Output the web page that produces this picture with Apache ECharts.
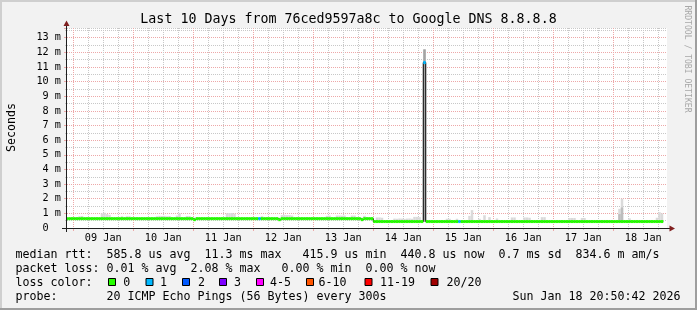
<!DOCTYPE html>
<html><head><meta charset="utf-8">
<script src="https://cdn.jsdelivr.net/npm/echarts@6/dist/echarts.min.js"></script>
<style>html,body{margin:0;padding:0;background:#f2f2f2}#c{width:697px;height:310px}</style>
</head><body><div id="c"></div>
<script>
// ---------------- data ----------------
const titleText = 'Last 10 Days from 76ced9597a8c to Google DNS 8.8.8.8';
const yTitle = 'Seconds';
const watermark = 'RRDTOOL / TOBI OETIKER';
const dayLabels = ['09 Jan','10 Jan','11 Jan','12 Jan','13 Jan','14 Jan','15 Jan','16 Jan','17 Jan','18 Jan'];
const AXIS_START = Date.UTC(2026, 0, 8, 21, 30);   // left edge of the time axis
const SLOT_MIN = 30, SLOTS = 480;                  // 10 days in 30-minute slots
// hourly samples (ms), sample i ends at Jan 8 22:00 + i hours
const medianRtt = [
 .64,.64,.64,.64,.64,.64,.64,.64,.64,.64,
 .64,.64,.64,.64,.64,.64,.64,.64,.64,.64,
 .64,.64,.64,.64,.64,.64,.64,.64,.64,.64,
 .64,.64,.64,.64,.64,.64,.64,.64,.64,.64,
 .64,.64,.64,.64,.64,.64,.64,.64,.64,.64,
 .64,.57,.64,.64,.64,.64,.64,.64,.64,.64,
 .64,.64,.64,.64,.64,.64,.64,.64,.64,.64,
 .64,.64,.64,.64,.64,.64,.64,.64,.64,.64,
 .64,.64,.64,.64,.64,.57,.64,.64,.64,.64,
 .64,.64,.64,.64,.64,.64,.64,.64,.64,.64,
 .64,.64,.64,.64,.64,.64,.64,.64,.64,.64,
 .64,.64,.64,.64,.64,.64,.64,.64,.57,.64,
 .64,.64,.64,.44,.44,.44,.44,.44,.44,.44,
 .44,.44,.44,.44,.44,.44,.44,.44,.44,.44,
 .44,.44,.44,11.3,.44,.44,.44,.44,.44,.44,
 .44,.44,.44,.44,.44,.44,.44,.44,.44,.44,
 .44,.44,.44,.44,.44,.44,.44,.44,.44,.44,
 .44,.44,.44,.44,.44,.44,.44,.44,.44,.44,
 .44,.44,.44,.44,.44,.44,.44,.44,.44,.44,
 .44,.44,.44,.44,.44,.44,.44,.44,.44,.44,
 .44,.44,.44,.44,.44,.44,.44,.44,.44,.44,
 .44,.44,.44,.44,.44,.44,.44,.44,.44,.44,
 .44,.44,.44,.44,.44,.44,.44,.44,.44,.44,
 .44,.44,.44,.44,.44,.44,.44,.44,.44
];
// highest ping of each sample (top of the smoke)
const smokeMax = [
 .72,.72,.72,.72,.72,.80,.82,.72,.72,.72,
 .72,.72,.72,.72,1.0,1.04,.95,.90,.72,.72,
 .72,.72,.80,.72,.80,.80,.72,.72,.72,.72,
 .72,.72,.72,.72,.72,.72,.80,.83,.82,.83,
 .80,.82,.72,.72,.85,1.0,.72,.72,.82,.82,
 .72,.72,.72,.72,.72,.72,.72,.72,.72,.72,
 .72,.72,.72,.72,1.0,1.02,1.02,.98,.72,.72,
 .72,.72,.72,.72,.72,.72,.72,.72,.80,.72,
 .72,.72,.72,.72,.72,.72,.88,.90,.88,.88,
 .85,.72,.72,.72,.72,.72,.72,.72,.72,.72,
 .72,.72,.72,.72,.83,.85,.72,.72,.85,.85,
 .84,.85,.72,.72,.85,.85,.72,.72,.72,.83,
 .72,.72,.72,.55,.72,.72,.70,.55,.55,.55,
 .55,.64,.63,.65,.64,.62,.64,.65,.63,.76,
 .76,.74,.55,12.2,.55,.55,.55,.55,.55,.55,
 .55,.55,.63,.63,.55,.55,.63,.55,.55,.55,
 .55,.83,1.22,.55,.55,.63,.55,.87,.55,.74,
 .55,.55,.65,.55,.55,.55,.55,.55,.72,.72,
 .55,.55,.55,.72,.72,.70,.55,.55,.55,.55,
 .74,.74,.55,.55,.55,.55,.55,.55,.55,.55,
 .55,.68,.68,.68,.55,.55,.68,.68,.55,.55,
 .55,.55,.55,.55,.55,.55,.55,.55,.55,.55,
 .55,1.31,2.0,.55,.55,.66,.55,.55,.55,.55,
 .55,.55,.55,.55,.55,.55,.70,1.08,1.0
];
// lowest ping where it differs from the median: [sample, ms]
const smokeMinOverride = [[143, 0.42]];
// denser smoke bands: [sample, low, high]
const midSmoke = [[221, 0.5, 0.95], [222, 0.5, 1.4]];
const denseSmoke = [[143, 0.42, 12.2]];
// packet loss per sample (pings lost out of 20): [sample, lost]
const lossEvents = [[77, 1], [143, 1], [157, 1]];
const lossLabels = ['0','1','2','3','4-5','6-10','11-19','20/20'];
const lossColors = ['#26ff00','#00b8ff','#0059ff','#7e00ff','#ff00ff','#ff5500','#ff0000','#a00000'];
const legendRtt  = 'median rtt:  585.8 us avg  11.3 ms max   415.9 us min  440.8 us now  0.7 ms sd  834.6 m am/s';
const legendLoss = 'packet loss: 0.01 % avg  2.08 % max   0.00 % min  0.00 % now';
const legendLossColor = 'loss color:';
const legendProbe = 'probe:       20 ICMP Echo Pings (56 Bytes) every 300s';
const legendDate = 'Sun Jan 18 20:50:42 2026';
const Y_MAX = 13.66;

// ---------------- build ----------------
const FONT = 'DejaVu Sans Mono';
const meta = [], cats = [];
for (let k = 0; k <= SLOTS; k++) {
  const d = new Date(AXIS_START + k * SLOT_MIN * 60000);
  const m = {day: d.getUTCDate(), hour: d.getUTCHours(), min: d.getUTCMinutes()};
  meta.push(m);
  cats.push(String(m.day).padStart(2,'0') + ' ' + String(m.hour).padStart(2,'0') + ':' + String(m.min).padStart(2,'0'));
}
const isSix = i => meta[i].min === 0 && meta[i].hour % 6 === 0;
const isMid = i => meta[i].min === 0 && meta[i].hour === 0;
const isNoon = i => meta[i].min === 0 && meta[i].hour === 12;
const kEnd = i => 2 * i + 1;
const kStart = i => Math.max(0, 2 * i - 1);

const lossMap = {}; lossEvents.forEach(([i, n]) => lossMap[i] = n);
const lossClass = n => n === 0 ? 0 : n === 1 ? 1 : n === 2 ? 2 : n === 3 ? 3 : n <= 5 ? 4 : n <= 10 ? 5 : n <= 19 ? 6 : 7;
const minMap = {}; smokeMinOverride.forEach(([i, v]) => minMap[i] = v);

const smokeData = medianRtt.map((v, i) => [kStart(i), kEnd(i), (i in minMap) ? minMap[i] : v, smokeMax[i]]);
const midData = midSmoke.map(([i, lo, hi]) => [kStart(i), kEnd(i), lo, hi]);
const denseData = denseSmoke.map(([i, lo, hi]) => [kStart(i), kEnd(i), lo, hi]);
const bandData = medianRtt.map((v, i) => [kStart(i), kEnd(i), v, lossClass(lossMap[i] || 0)]);
const lineData = medianRtt.map((v, i) => [kEnd(i), v]);

function rectRender(fill) {
  return function (params, api) {
    const a = api.coord([api.value(0), api.value(3)]);
    const b = api.coord([api.value(1), api.value(2)]);
    return {type: 'rect', shape: {x: a[0], y: a[1], width: b[0] - a[0], height: b[1] - a[1]}, style: {fill: fill}};
  };
}
function bandRender(params, api) {
  const a = api.coord([api.value(0), api.value(2)]);
  const b = api.coord([api.value(1), api.value(2)]);
  return {type: 'rect', shape: {x: a[0], y: a[1] - 1.5, width: b[0] - a[0], height: 3}, style: {fill: lossColors[api.value(3)]}};
}

const GRAY = '#c8c8c8', RED = '#eda8a8';
const txt = (text, x, y, extra) => Object.assign({type: 'text', x: x, y: y, silent: true,
  style: Object.assign({text: text, fill: '#000', fontFamily: FONT, fontSize: 11.63, verticalAlign: 'middle'}, (extra && extra.style) || {})},
  extra ? {rotation: extra.rotation || 0} : {});

const graphics = [
  {type: 'rect', shape: {x: 0, y: 0, width: 697, height: 2}, style: {fill: '#cfcfcf'}},
  {type: 'rect', shape: {x: 0, y: 0, width: 2, height: 310}, style: {fill: '#cfcfcf'}},
  {type: 'rect', shape: {x: 0, y: 308, width: 697, height: 2}, style: {fill: '#9e9e9e'}},
  {type: 'rect', shape: {x: 695, y: 0, width: 2, height: 310}, style: {fill: '#9e9e9e'}},
  // axes with arrows
  {type: 'line', shape: {x1: 62, y1: 228.5, x2: 670, y2: 228.5}, style: {stroke: '#1f1f1f', lineWidth: 1}, z: 50},
  {type: 'line', shape: {x1: 66.5, y1: 232, x2: 66.5, y2: 24}, style: {stroke: '#1f1f1f', lineWidth: 1}, z: 50},
  {type: 'polygon', shape: {points: [[66.5, 20.5], [63.5, 26], [69.5, 26]]}, style: {fill: '#801f1f'}, z: 50},
  {type: 'polygon', shape: {points: [[675, 228.5], [669.5, 225.5], [669.5, 231.5]]}, style: {fill: '#801f1f'}, z: 50},
  txt(titleText, 348.5, 20, {style: {fontSize: 13.3, align: 'center'}}),
  txt(yTitle, 11.5, 127.5, {rotation: Math.PI / 2, style: {align: 'center'}}),
  txt(watermark, 687.5, 59, {rotation: -Math.PI / 2, style: {align: 'center', fontSize: 8.1, fill: '#a8a8a8'}}),
  txt(legendRtt, 15.5, 254.8),
  txt(legendLoss, 15.5, 268.8),
  txt(legendLossColor, 15.5, 282.8),
  txt(legendProbe, 15.5, 296.8),
  txt(legendDate, 512.5, 296.8)
];
const boxX = [108.5, 146, 182.5, 219.5, 256.5, 306.5, 365, 431];
const labX = [123.2, 160, 198, 234, 270, 318.5, 380, 446.5];
lossLabels.forEach((lab, j) => {
  graphics.push({type: 'rect', shape: {x: boxX[j], y: 278.5, width: 7, height: 7}, style: {fill: lossColors[j], stroke: '#000', lineWidth: 1}});
  graphics.push(txt(lab, labX[j], 282.8));
});

const option = {
  animation: false,
  backgroundColor: '#f2f2f2',
  grid: {left: 67, top: 28, width: 600, height: 200, show: true, backgroundColor: '#ffffff', borderWidth: 0},
  xAxis: [
    {type: 'category', data: cats, boundaryGap: false,
     axisLine: {show: false},
     axisTick: {show: true, length: 2, interval: i => isSix(i), lineStyle: {color: GRAY}},
     axisLabel: {interval: i => isNoon(i), formatter: (v, i) => dayLabels[meta[i].day - 9] || '',
                 fontFamily: FONT, fontSize: 10.2, color: '#000', margin: 5},
     splitLine: {show: true, interval: i => isSix(i) && !isMid(i), lineStyle: {color: GRAY, width: 1, type: [1, 1]}}},
    {type: 'category', data: cats, boundaryGap: false, position: 'bottom',
     axisLine: {show: false},
     axisTick: {show: true, length: 3, interval: i => isMid(i), lineStyle: {color: RED}},
     axisLabel: {show: false},
     splitLine: {show: true, interval: i => isMid(i), lineStyle: {color: RED, width: 1, type: [1, 1]}}}
  ],
  yAxis: [
    {type: 'value', min: 0, max: Y_MAX, interval: 0.5,
     axisLine: {show: false},
     axisTick: {show: true, length: 2, lineStyle: {color: GRAY}},
     axisLabel: {showMaxLabel: false, fontFamily: FONT, fontSize: 10.2, color: '#000', margin: 6,
                 formatter: v => v === 0 ? '0  ' : (Math.abs(v - Math.round(v)) < 1e-6 ? Math.round(v) + ' m' : '')},
     splitLine: {show: true, showMinLine: false, lineStyle: {color: GRAY, width: 1, type: [1, 1]}}},
    {type: 'value', min: 0, max: Y_MAX, interval: 1, position: 'left',
     axisLine: {show: false},
     axisTick: {show: true, length: 3, lineStyle: {color: RED}},
     axisLabel: {show: false},
     splitLine: {show: true, showMinLine: false, showMaxLine: false, lineStyle: {color: RED, width: 1, type: [1, 1]}}}
  ],
  series: [
    {type: 'custom', name: 'smoke', renderItem: rectRender('#dadada'), data: smokeData,
     encode: {x: [0, 1], y: [2, 3]}, z: 2, silent: true},
    {type: 'custom', name: 'smoke mid', renderItem: rectRender('#bdbdbd'), data: midData,
     encode: {x: [0, 1], y: [2, 3]}, z: 3, silent: true},
    {type: 'custom', name: 'smoke dense', renderItem: rectRender('#a3a3a3'), data: denseData,
     encode: {x: [0, 1], y: [2, 3]}, z: 3, silent: true},
    {type: 'line', name: 'median', data: lineData, step: 'start', showSymbol: false, symbol: 'none',
     lineStyle: {color: '#000', width: 1}, z: 4, silent: true},
    {type: 'custom', name: 'loss band', renderItem: bandRender, data: bandData,
     encode: {x: [0, 1], y: [2]}, z: 5, silent: true}
  ],
  graphic: graphics
};
const chart = echarts.init(document.getElementById('c'), null, {renderer: 'canvas', width: 697, height: 310});
chart.setOption(option);
</script>
</body></html>
